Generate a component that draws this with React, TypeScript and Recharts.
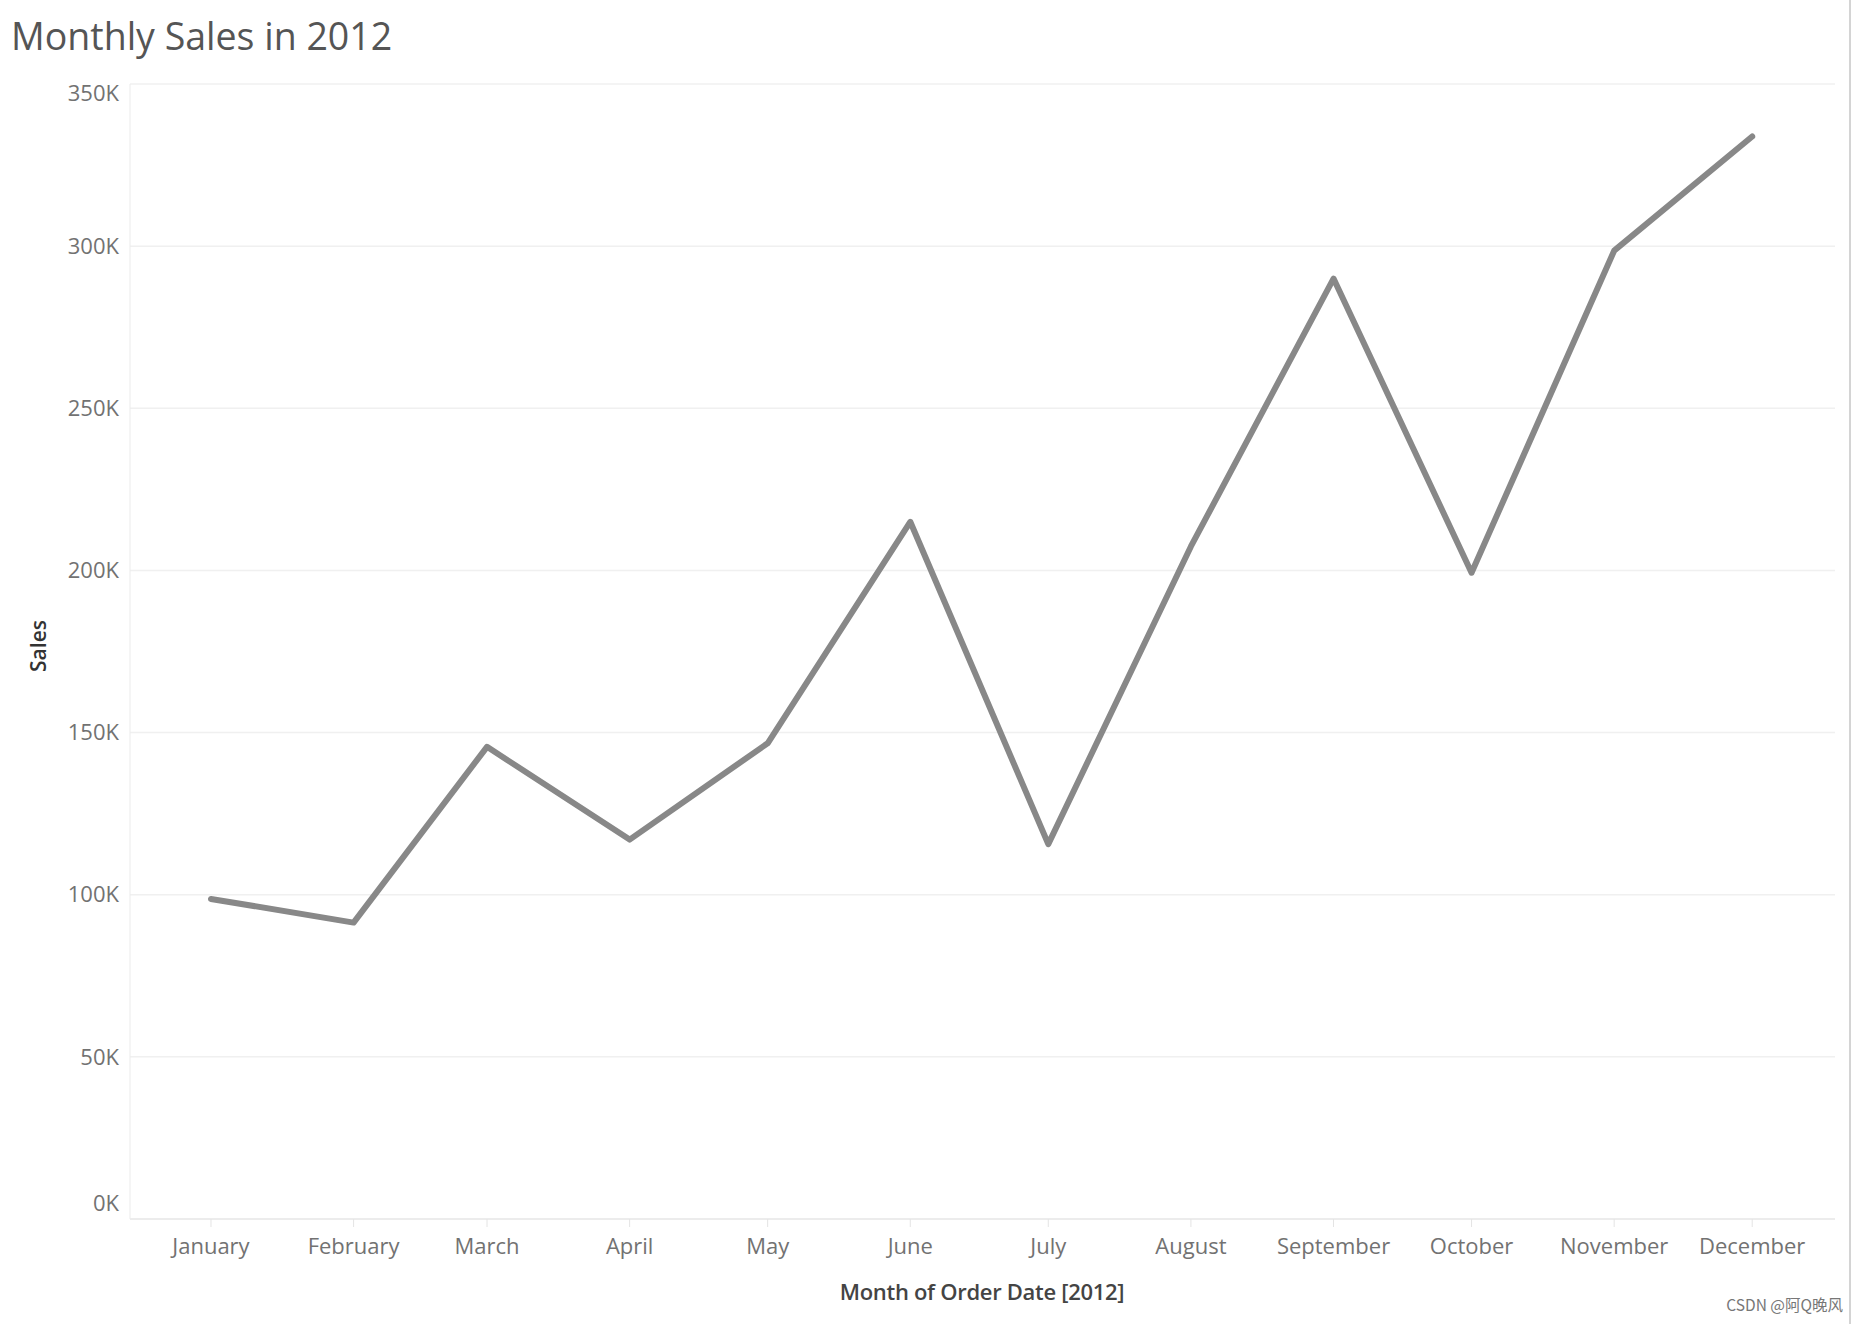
import { LineChart, Line, XAxis, YAxis, CartesianGrid } from "recharts"

// ---- data ----
const months = [
  "January", "February", "March", "April", "May", "June",
  "July", "August", "September", "October", "November", "December",
]
// day of year (2012, leap year) on which each month starts
const monthStartDay = [1, 32, 61, 92, 122, 153, 183, 214, 245, 275, 306, 336]
const sales = [
  98700, 91400, 145600, 117000, 146700, 215000,
  115600, 207400, 290000, 199300, 298600, 333800,
]
const yTicks = [0, 50000, 100000, 150000, 200000, 250000, 300000, 350000]

const chartData = months.map((m, i) => ({ month: m, day: monthStartDay[i], sales: sales[i] }))

const W = 1859
const H = 1324
const tickColor = "#727272"
const font = "'Open Sans', sans-serif"

function YTick(props: any) {
  const { x, y, payload } = props
  const v = payload.value
  // tableau nudges the edge labels inside the plot
  const shift = v === yTicks[yTicks.length - 1] ? 9 : v === 0 ? -16 : 0
  return (
    <text x={x} y={y + shift} dy="0.35em" textAnchor="end" fill={tickColor} fontSize={22} fontFamily={font}>
      {v / 1000 + "K"}
    </text>
  )
}

export default function App() {
  return (
    <div style={{ position: "absolute", left: 0, top: 0, width: W, height: H, background: "#fff", overflow: "hidden" }}>
      {/* title */}
      <div style={{ position: "absolute", left: 11, top: 17, fontFamily: font, fontSize: 37.5, lineHeight: 1, color: "#555", whiteSpace: "nowrap" }}>
        Monthly Sales in 2012
      </div>

      <LineChart width={W} height={H} data={chartData} margin={{ top: 84, right: 24, left: 0, bottom: 0 }}>
        <CartesianGrid horizontal vertical={false} stroke="#f0f0f0" strokeWidth={1.5} />
        <XAxis
          dataKey="day"
          type="number"
          domain={[-16.6, 354]}
          ticks={monthStartDay}
          tickFormatter={(d: number) => months[monthStartDay.indexOf(d)]}
          height={105}
          tickSize={8}
          tickMargin={11}
          stroke="#e4e4e4"
          tick={{ fill: tickColor, fontSize: 22, fontFamily: font }}
          interval={0}
        />
        <YAxis
          dataKey="sales"
          domain={[0, 350000]}
          ticks={yTicks}
          width={130}
          tickLine={false}
          tickSize={0}
          tickMargin={11}
          stroke="#ebebeb"
          tick={<YTick />}
        />
        <Line
          type="linear"
          dataKey="sales"
          stroke="#888888"
          strokeWidth={6}
          strokeLinecap="round"
          strokeLinejoin="round"
          dot={false}
          isAnimationActive={false}
        />
      </LineChart>

      {/* axis titles */}
      <div
        style={{
          position: "absolute", left: 38, top: 646, transform: "translate(-50%, -50%) rotate(-90deg)",
          fontFamily: font, fontWeight: 600, fontSize: 21, color: "#333", whiteSpace: "nowrap",
        }}
      >
        Sales
      </div>
      <div
        style={{
          position: "absolute", left: 982, top: 1291, transform: "translate(-50%, -50%)",
          fontFamily: font, fontWeight: 600, fontSize: 22, color: "#444", whiteSpace: "nowrap", letterSpacing: -0.3,
        }}
      >
        Month of Order Date [2012]
      </div>

      {/* right edge border */}
      <div style={{ position: "absolute", left: 1849, top: 0, width: 2, height: H, background: "#d4d4d4" }} />

      {/* watermark */}
      <div
        style={{
          position: "absolute", right: 16, top: 1297, fontFamily: "'Noto Sans CJK SC', sans-serif",
          fontSize: 15.5, lineHeight: 1, color: "#777", whiteSpace: "nowrap",
        }}
      >
        CSDN @阿Q晚风
      </div>
    </div>
  )
}
